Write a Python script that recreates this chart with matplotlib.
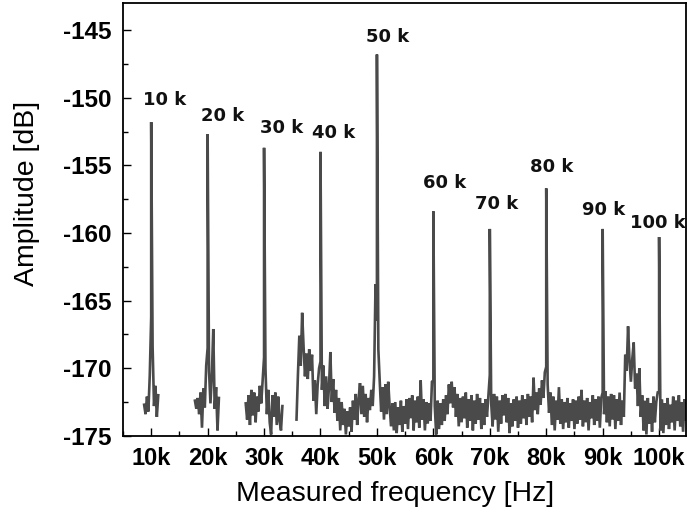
import numpy as np
import matplotlib
matplotlib.use('Agg')
import matplotlib.pyplot as plt
from matplotlib.ticker import MultipleLocator

plt.rcParams['font.family'] = ['Liberation Sans', 'DejaVu Sans']
plt.rcParams['axes.unicode_minus'] = False

# --- Data (frequency in kHz, amplitude in dB) ---
tone_khz = [10, 20, 30, 40, 50, 60, 70, 80, 90, 100]
tone_db = [-151.8, -152.7, -153.7, -154.0, -146.8, -158.4, -159.7, -156.7, -159.7, -160.3]
tone_labels = ['10 k', '20 k', '30 k', '40 k', '50 k', '60 k', '70 k', '80 k', '90 k', '100 k']
# where each peak label sits (kHz, dB)
label_khz = [12.3, 22.7, 33.2, 42.4, 51.9, 62.0, 71.2, 81.0, 90.1, 99.7]
label_db = [-150.2, -151.35, -152.25, -152.6, -145.5, -156.3, -157.85, -155.1, -158.3, -159.25]

x_ticks = [10, 20, 30, 40, 50, 60, 70, 80, 90, 100]
x_tick_labels = ['10k', '20k', '30k', '40k', '50k', '60k', '70k', '80k', '90k', '100k']
y_ticks = [-175, -170, -165, -160, -155, -150, -145]

# noise floor, sampled every 0.25 kHz; each segment starts at the given kHz
STEP_KHZ = 0.25
seg1_start = 8.75
seg1_db = [-172.7, -173.4, -172.1, -173.2, -170.5, -166.2, -168.4, -172.8, -171.3, -173.6, -172.0]

seg2_start = 17.75
seg2_db = [-172.4, -173.0, -172.2, -173.4, -171.8, -174.4, -171.5, -172.9, -169.8,
           -168.5, -170.2, -172.6, -170.5, -167.1, -173.0, -171.4, -174.6, -172.2]

seg3_start = 26.75
seg3_db = [-172.6, -173.8, -172.0, -174.2, -171.6, -173.5, -171.8, -174.0, -172.1,
           -173.2, -171.3, -172.6, -170.9, -169.2, -170.0, -173.4, -171.6, -174.0,
           -174.9, -172.0, -173.6, -171.8, -174.2, -172.1, -173.9, -174.6, -172.8]

seg4_start = 35.75
seg4_db = [
    # 35.75 - 39.75
    -173.8, -170.5, -167.6, -169.8, -165.9, -168.4, -170.6, -168.9, -170.8, -168.6,
    -170.2, -169.0, -172.4, -170.9, -173.4, -171.2, -170.0,
    # 40 - 44.75
    -169.5, -171.6, -169.8, -172.8, -170.6, -173.0, -171.4, -168.8, -172.5, -170.8,
    -173.3, -171.6, -173.9, -172.2, -174.6, -172.5, -174.2, -173.0, -174.9, -173.2,
    # 45 - 49.75
    -174.3, -172.9, -174.7, -172.4, -173.8, -171.9, -174.2, -172.3, -171.1, -173.4,
    -171.3, -173.6, -171.9, -174.0, -172.2, -173.1, -171.6, -172.8, -170.6, -163.8,
    # 50 - 54.75
    -166.5, -168.6, -171.0, -173.2, -171.4, -173.8, -171.2, -173.4, -171.0, -172.8,
    -174.3, -172.6, -174.6, -172.5, -174.8, -172.9, -174.2, -172.4, -174.7, -172.8,
    # 55 - 59.75
    -174.1, -172.3, -174.5, -172.2, -173.7, -172.0, -174.6, -172.4, -174.0, -172.1,
    -174.4, -170.9, -173.8, -172.3, -174.6, -172.5, -174.1, -172.6, -173.9, -171.0,
    # 60 - 64.75
    -170.9, -172.8, -174.9, -172.4, -174.5, -172.6, -174.2, -172.3, -173.9, -172.0,
    -173.4, -171.2, -172.6, -171.0, -172.9, -171.4, -173.6, -171.9, -174.3, -172.2,
    # 65 - 69.75
    -174.0, -172.1, -173.7, -171.8, -174.4, -172.3, -173.9, -172.0, -174.6, -172.4,
    -174.1, -171.9, -173.8, -172.2, -174.5, -172.6, -174.2, -172.3, -173.6, -172.0,
    # 70 - 74.75
    -170.5, -172.6, -174.3, -171.9, -173.8, -172.1, -174.7, -172.4, -174.1, -172.0,
    -173.5, -171.9, -174.0, -172.2, -174.8, -172.6, -174.3, -172.3, -173.9, -172.1,
    # 75 - 79.75
    -174.4, -172.4, -174.1, -172.0, -173.7, -172.3, -174.2, -171.9, -173.6, -172.1,
    -174.0, -170.7, -173.1, -171.8, -173.4, -171.5, -172.7, -170.9, -172.2, -170.3,
    # 80 - 84.75
    -169.9, -171.2, -173.3, -171.8, -174.2, -172.1, -174.6, -172.4, -173.8, -171.4,
    -174.1, -172.3, -174.5, -172.5, -174.0, -172.2, -174.4, -172.6, -173.9, -172.3,
    # 85 - 89.75
    -174.5, -172.4, -174.1, -172.1, -173.8, -171.6, -174.3, -172.4, -174.0, -172.2,
    -174.6, -172.5, -173.7, -172.0, -174.2, -172.3, -173.9, -172.1, -174.4, -172.2,
    # 90 - 94.75
    -171.8, -173.4, -171.7, -174.0, -172.1, -174.3, -171.9, -173.8, -172.0, -174.5,
    -172.3, -173.9, -171.8, -174.2, -172.4, -173.6, -169.0, -170.2, -166.9, -169.4,
    # 95 - 99.75
    -171.0, -169.3, -168.1, -171.5, -170.4, -172.8, -170.0, -173.6, -172.0, -174.6,
    -172.4, -174.9, -172.2, -174.1, -172.6, -174.7, -172.1, -174.0, -172.5, -171.8,
    # 100 - 104.75
    -171.8, -174.6, -172.3, -174.8, -172.6, -174.2, -172.2, -174.5, -172.7, -174.0,
    -172.1, -174.6, -172.4, -173.9, -172.0, -174.3, -172.5, -174.7, -172.3, -173.8,
]

segments = [(seg1_start, seg1_db), (seg2_start, seg2_db),
            (seg3_start, seg3_db), (seg4_start, seg4_db)]


def build_trace(start, values):
    """Noise floor of one segment with the tone peaks spliced in."""
    f = start + STEP_KHZ * np.arange(len(values))
    v = np.asarray(values, dtype=float)
    for tf, ta in zip(tone_khz, tone_db):
        if f[0] <= tf <= f[-1]:
            i = np.searchsorted(f, tf, side='right')
            f = np.insert(f, i, tf)
            v = np.insert(v, i, ta)
    return f, v


# --- Plot ---
fig = plt.figure(figsize=(6.87, 5.17), dpi=100)
ax = fig.add_axes([0.179, 0.157, 0.819, 0.837])

for start, values in segments:
    f, v = build_trace(start, values)
    ax.plot(f, v, color='#4a4a4a', linewidth=1.9, solid_joinstyle='miter')

for lx, ly, txt in zip(label_khz, label_db, tone_labels):
    ax.text(lx, ly, txt, family='DejaVu Sans', fontweight='bold', fontsize=13,
            ha='center', va='center', color='#111111', clip_on=False)

ax.set_xlim(5.0, 104.7)
ax.set_ylim(-175, -143)

ax.set_xticks(x_ticks, labels=x_tick_labels, fontsize=17, fontweight='bold')
ax.set_yticks(y_ticks)
for lbl in ax.get_yticklabels():
    lbl.set_fontsize(17.5)
    lbl.set_fontweight('bold')
ax.xaxis.set_minor_locator(MultipleLocator(5))
ax.yaxis.set_minor_locator(MultipleLocator(2.5))
ax.tick_params(which='major', direction='in', length=6, width=1.0, pad=8, colors='black')
ax.tick_params(which='minor', direction='in', length=3.5, width=1.0)

for sp in ax.spines.values():
    sp.set_linewidth(1.3)
    sp.set_color('black')

# axis titles placed as figure text so they sit where the original has them
fig.text(395 / 687, 1 - 494 / 517, 'Measured frequency [Hz]',
         ha='center', va='center', fontsize=20.5)
fig.text(27 / 687, 1 - 193 / 517, 'Amplitude [dB]', rotation=90,
         ha='center', va='center', fontsize=20.5)

fig.savefig('out.png', dpi=100)
